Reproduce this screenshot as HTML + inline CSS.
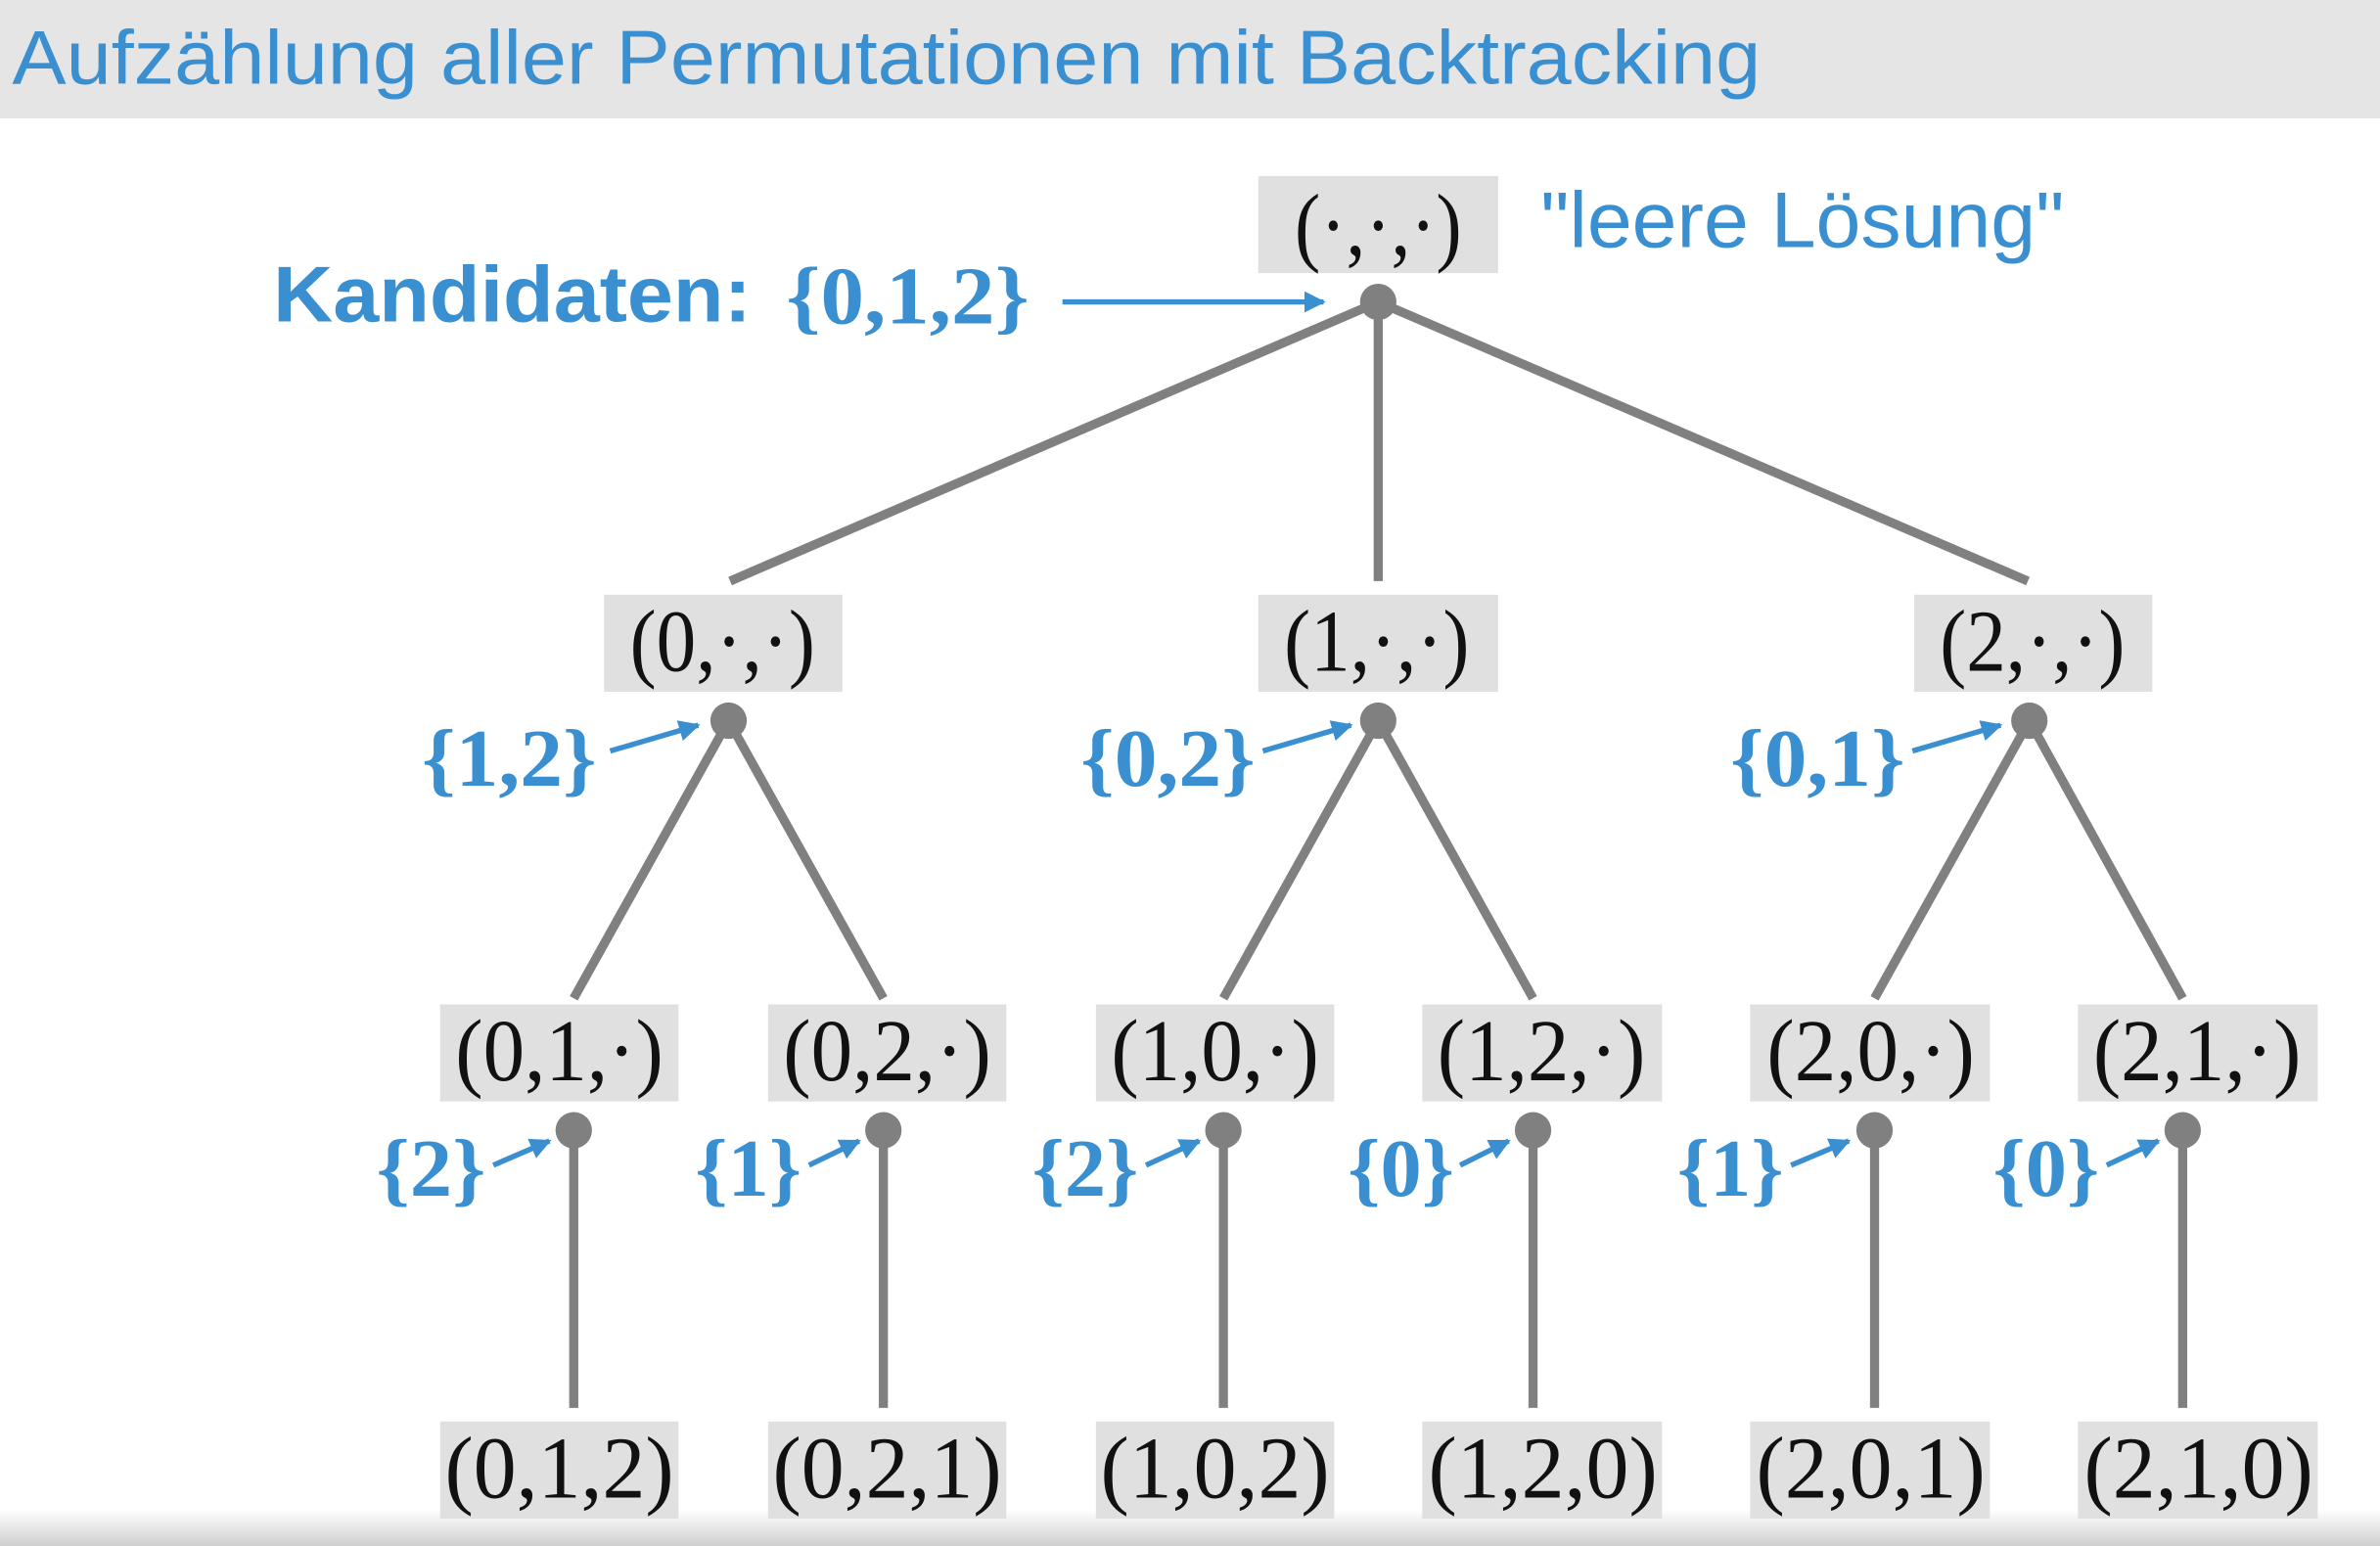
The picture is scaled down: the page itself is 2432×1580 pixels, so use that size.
<!DOCTYPE html>
<html><head><meta charset="utf-8"><style>
html,body{margin:0;padding:0;background:#fff;}
svg{display:block;}
.t{font-family:"Liberation Serif",serif;font-size:58px;fill:#111;}
.c{font-family:"Liberation Serif",serif;font-size:54px;font-weight:bold;fill:#3a8fd0;}
</style></head><body>
<svg width="2432" height="1580" viewBox="0 0 1568 1019" preserveAspectRatio="none" xmlns="http://www.w3.org/2000/svg">
<defs>
<linearGradient id="bg" x1="0" y1="0" x2="0" y2="1"><stop offset="0" stop-color="#fff"/><stop offset="1" stop-color="#cfcfcf"/></linearGradient>
<marker id="ah" viewBox="0 0 10 10" refX="9" refY="5" markerWidth="4" markerHeight="4" orient="auto"><path d="M0,0 L10,5 L0,10 z" fill="#3a8fd0"/></marker>
</defs>
<rect x="0" y="0" width="1568" height="78" fill="#e5e5e5"/>
<rect x="0" y="995" width="1568" height="24" fill="url(#bg)"/>
<text x="8" y="55" font-family="Liberation Sans, sans-serif" font-size="50" fill="#3a8fd0" textLength="1152" lengthAdjust="spacingAndGlyphs">Aufzählung aller Permutationen mit Backtracking</text>

<g stroke="#808080" stroke-width="6" fill="none">
<line x1="908" y1="199" x2="481" y2="383"/>
<line x1="908" y1="199" x2="908" y2="383"/>
<line x1="908" y1="199" x2="1336" y2="383"/>
<line x1="480" y1="475" x2="378" y2="658"/>
<line x1="480" y1="475" x2="582" y2="658"/>
<line x1="908" y1="475" x2="806" y2="658"/>
<line x1="908" y1="475" x2="1010" y2="658"/>
<line x1="1337" y1="475" x2="1235" y2="658"/>
<line x1="1337" y1="475" x2="1438" y2="658"/>
<line x1="378" y1="745" x2="378" y2="928"/>
<line x1="582" y1="745" x2="582" y2="928"/>
<line x1="806" y1="745" x2="806" y2="928"/>
<line x1="1010" y1="745" x2="1010" y2="928"/>
<line x1="1235" y1="745" x2="1235" y2="928"/>
<line x1="1438" y1="745" x2="1438" y2="928"/>
</g>
<g fill="#808080">
<circle cx="908" cy="199" r="12"/>
<circle cx="480" cy="475" r="12"/><circle cx="908" cy="475" r="12"/><circle cx="1337" cy="475" r="12"/>
<circle cx="378" cy="745" r="12"/><circle cx="582" cy="745" r="12"/><circle cx="806" cy="745" r="12"/>
<circle cx="1010" cy="745" r="12"/><circle cx="1235" cy="745" r="12"/><circle cx="1438" cy="745" r="12"/>
</g>

<g fill="#e0e0e0">
<rect x="829" y="116" width="158" height="64"/>
<rect x="398" y="392" width="157" height="64"/><rect x="829" y="392" width="158" height="64"/><rect x="1261" y="392" width="157" height="64"/>
<rect x="290" y="662" width="157" height="64"/><rect x="506" y="662" width="157" height="64"/><rect x="722" y="662" width="157" height="64"/>
<rect x="937" y="662" width="158" height="64"/><rect x="1153" y="662" width="158" height="64"/><rect x="1369" y="662" width="158" height="64"/>
<rect x="290" y="937" width="157" height="64"/><rect x="506" y="937" width="157" height="64"/><rect x="722" y="937" width="157" height="64"/>
<rect x="937" y="937" width="158" height="64"/><rect x="1153" y="937" width="158" height="64"/><rect x="1369" y="937" width="158" height="64"/>
</g>
<g class="t">
<text x="853" y="168" textLength="110" lengthAdjust="spacingAndGlyphs">(·,·,·)</text>
<text x="415" y="442" textLength="122" lengthAdjust="spacingAndGlyphs">(0,·,·)</text>
<text x="846" y="442" textLength="122" lengthAdjust="spacingAndGlyphs">(1,·,·)</text>
<text x="1278" y="442" textLength="122" lengthAdjust="spacingAndGlyphs">(2,·,·)</text>
<text x="300" y="712" textLength="137" lengthAdjust="spacingAndGlyphs">(0,1,·)</text>
<text x="516" y="712" textLength="137" lengthAdjust="spacingAndGlyphs">(0,2,·)</text>
<text x="732" y="712" textLength="137" lengthAdjust="spacingAndGlyphs">(1,0,·)</text>
<text x="947" y="712" textLength="137" lengthAdjust="spacingAndGlyphs">(1,2,·)</text>
<text x="1164" y="712" textLength="137" lengthAdjust="spacingAndGlyphs">(2,0,·)</text>
<text x="1379" y="712" textLength="137" lengthAdjust="spacingAndGlyphs">(2,1,·)</text>
<text x="293" y="987" textLength="151" lengthAdjust="spacingAndGlyphs">(0,1,2)</text>
<text x="509" y="987" textLength="151" lengthAdjust="spacingAndGlyphs">(0,2,1)</text>
<text x="725" y="987" textLength="151" lengthAdjust="spacingAndGlyphs">(1,0,2)</text>
<text x="941" y="987" textLength="151" lengthAdjust="spacingAndGlyphs">(1,2,0)</text>
<text x="1157" y="987" textLength="151" lengthAdjust="spacingAndGlyphs">(2,0,1)</text>
<text x="1373" y="987" textLength="151" lengthAdjust="spacingAndGlyphs">(2,1,0)</text>
</g>

<text x="1015" y="163" font-family="Liberation Sans, sans-serif" font-size="52" fill="#3a8fd0" textLength="345" lengthAdjust="spacingAndGlyphs">"leere Lösung"</text>
<text x="180" y="212" font-family="Liberation Sans, sans-serif" font-size="52" font-weight="bold" fill="#3a8fd0" textLength="315" lengthAdjust="spacingAndGlyphs">Kandidaten:</text>
<text x="518" y="213" class="c" textLength="160" lengthAdjust="spacingAndGlyphs">{0,1,2}</text>

<g stroke="#3a8fd0" stroke-width="3.5" fill="none" marker-end="url(#ah)">
<line x1="700" y1="199" x2="872" y2="199"/>
<line x1="402" y1="495" x2="460" y2="478"/>
<line x1="832" y1="495" x2="890" y2="478"/>
<line x1="1260" y1="495" x2="1318" y2="478"/>
<line x1="325" y1="768" x2="362" y2="752"/>
<line x1="533" y1="768" x2="566" y2="752"/>
<line x1="755" y1="768" x2="790" y2="752"/>
<line x1="962" y1="768" x2="994" y2="752"/>
<line x1="1180" y1="768" x2="1218" y2="752"/>
<line x1="1388" y1="768" x2="1422" y2="752"/>
</g>
<g class="c">
<text x="278" y="518" textLength="115" lengthAdjust="spacingAndGlyphs">{1,2}</text>
<text x="712" y="518" textLength="115" lengthAdjust="spacingAndGlyphs">{0,2}</text>
<text x="1140" y="518" textLength="115" lengthAdjust="spacingAndGlyphs">{0,1}</text>
<text x="248" y="788" textLength="72" lengthAdjust="spacingAndGlyphs">{2}</text>
<text x="458" y="788" textLength="70" lengthAdjust="spacingAndGlyphs">{1}</text>
<text x="680" y="788" textLength="70" lengthAdjust="spacingAndGlyphs">{2}</text>
<text x="888" y="788" textLength="70" lengthAdjust="spacingAndGlyphs">{0}</text>
<text x="1105" y="788" textLength="70" lengthAdjust="spacingAndGlyphs">{1}</text>
<text x="1313" y="788" textLength="70" lengthAdjust="spacingAndGlyphs">{0}</text>
</g>
</svg>
</body></html>
